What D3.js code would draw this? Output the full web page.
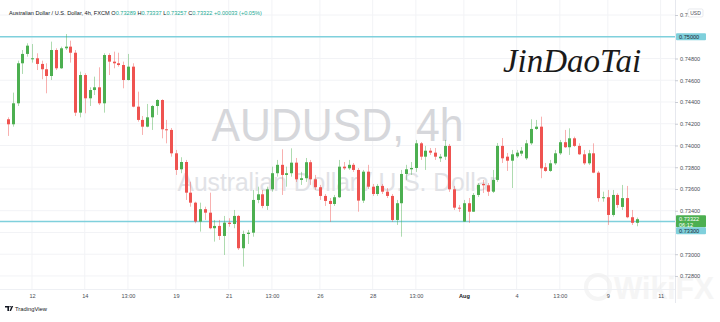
<!DOCTYPE html>
<html>
<head>
<meta charset="utf-8">
<script src="https://cdn.jsdelivr.net/npm/d3@7"></script>
<style>
  body { margin: 0; background: #fff; }
  svg { display: block; font-family: "Liberation Sans", "DejaVu Sans", sans-serif; }
</style>
</head>
<body>
<svg id="chart" width="720" height="322"></svg>
<script>
// AUDUSD 4h candles, 9 Jul - 10 Aug
var opens = [0.74241,0.74195,0.74388,0.74756,0.74842,0.74797,0.74802,0.74750,0.74701,0.74639,
  0.74878,0.74710,0.74894,0.74909,0.74853,0.74302,0.74648,0.74434,0.74510,0.74535,
  0.74388,0.74832,0.74771,0.74756,0.74740,0.74602,0.74725,0.74357,0.74235,0.74173,
  0.74259,0.74363,0.74418,0.74149,0.74143,0.73928,0.73781,0.73848,0.73566,0.73474,
  0.73300,0.73414,0.73382,0.73239,0.73260,0.73168,0.73290,0.73278,0.73352,0.73055,
  0.73186,0.73198,0.73499,0.73551,0.73444,0.73597,0.73745,0.73822,0.73729,0.73745,
  0.73842,0.73683,0.73699,0.73846,0.73689,0.73616,0.73536,0.73490,0.73462,0.73524,
  0.73805,0.73790,0.73822,0.73775,0.73493,0.73759,0.73621,0.73554,0.73628,0.73575,
  0.73536,0.73315,0.73469,0.73738,0.73781,0.73793,0.74020,0.73897,0.73952,0.73934,
  0.73882,0.73897,0.73996,0.73597,0.73428,0.73300,0.73469,0.73391,0.73545,0.73646,
  0.73634,0.73575,0.73683,0.73996,0.73897,0.73860,0.73900,0.73925,0.73882,0.74020,
  0.74152,0.74173,0.73800,0.73766,0.73836,0.73928,0.74030,0.73984,0.74066,0.73996,
  0.73919,0.73836,0.73928,0.73750,0.73516,0.73524,0.73361,0.73545,0.73435,0.73516,
  0.73340,0.73289];
var highs = [0.74259,0.74486,0.74780,0.74878,0.74940,0.74933,0.74848,0.74780,0.74756,0.74955,
  0.74894,0.74909,0.75025,0.74964,0.74878,0.74679,0.74664,0.74535,0.74633,0.74719,
  0.74848,0.74848,0.74863,0.74853,0.74771,0.74842,0.74756,0.74495,0.74271,0.74382,
  0.74372,0.74425,0.74425,0.74235,0.74161,0.73959,0.73892,0.73867,0.73667,0.73483,
  0.73474,0.73437,0.73566,0.73315,0.73315,0.73352,0.73331,0.73407,0.73361,0.73217,
  0.73223,0.73591,0.73621,0.73591,0.73621,0.73805,0.73867,0.73965,0.73805,0.73974,
  0.73885,0.73757,0.73885,0.73867,0.73729,0.73637,0.73554,0.73517,0.73545,0.73867,
  0.73848,0.73867,0.73839,0.73793,0.73775,0.73822,0.73646,0.73646,0.73646,0.73609,
  0.73554,0.73499,0.73775,0.73822,0.73848,0.74051,0.74032,0.73996,0.73977,0.73977,
  0.73922,0.74051,0.74014,0.73628,0.73453,0.73499,0.73517,0.73563,0.73655,0.73683,
  0.73655,0.73775,0.74023,0.74069,0.73931,0.73959,0.73959,0.73986,0.74051,0.74241,
  0.74235,0.74265,0.73839,0.73867,0.73959,0.74051,0.74143,0.74158,0.74081,0.74020,
  0.73959,0.73959,0.74020,0.73766,0.73575,0.73591,0.73591,0.73560,0.73637,0.73628,
  0.73407,0.73337];
var lows = [0.74088,0.74173,0.74363,0.74658,0.74817,0.74762,0.74694,0.74609,0.74480,0.74602,
  0.74694,0.74704,0.74878,0.74762,0.74271,0.74259,0.74296,0.74363,0.74464,0.74372,
  0.74302,0.74648,0.74710,0.74725,0.74526,0.74598,0.74351,0.74219,0.74097,0.74167,
  0.74143,0.74281,0.74066,0.74020,0.73897,0.73729,0.73745,0.73499,0.73437,0.73285,
  0.73208,0.73315,0.73230,0.73116,0.73131,0.72993,0.73253,0.73239,0.73039,0.72886,
  0.73094,0.73161,0.73469,0.73423,0.73407,0.73575,0.73713,0.73545,0.73621,0.73713,
  0.73665,0.73637,0.73665,0.73637,0.73591,0.73499,0.73444,0.73297,0.73444,0.73517,
  0.73775,0.73775,0.73757,0.73391,0.73471,0.73600,0.73536,0.73536,0.73554,0.73517,
  0.73297,0.73269,0.73161,0.73683,0.73729,0.73757,0.73867,0.73775,0.73913,0.73867,
  0.73848,0.73867,0.73573,0.73407,0.73389,0.73297,0.73288,0.73389,0.73527,0.73563,
  0.73536,0.73563,0.73665,0.73839,0.73766,0.73609,0.73885,0.73904,0.73867,0.74005,
  0.74143,0.73699,0.73757,0.73757,0.73821,0.73913,0.73977,0.73913,0.73986,0.73913,
  0.73821,0.73821,0.73745,0.73483,0.73483,0.73269,0.73346,0.73426,0.73407,0.73331,
  0.73269,0.73257];
var closes = [0.74195,0.74388,0.74756,0.74842,0.74918,0.74802,0.74750,0.74701,0.74639,0.74878,
  0.74710,0.74894,0.74909,0.74853,0.74302,0.74648,0.74434,0.74510,0.74535,0.74388,
  0.74832,0.74771,0.74756,0.74740,0.74602,0.74725,0.74357,0.74235,0.74173,0.74259,
  0.74363,0.74418,0.74149,0.74143,0.73928,0.73775,0.73848,0.73566,0.73474,0.73300,
  0.73414,0.73382,0.73239,0.73260,0.73168,0.73290,0.73278,0.73352,0.73055,0.73186,
  0.73198,0.73499,0.73551,0.73444,0.73597,0.73745,0.73822,0.73729,0.73745,0.73842,
  0.73689,0.73699,0.73846,0.73689,0.73616,0.73536,0.73490,0.73462,0.73524,0.73805,
  0.73790,0.73822,0.73775,0.73493,0.73759,0.73621,0.73554,0.73628,0.73575,0.73536,
  0.73315,0.73469,0.73738,0.73781,0.73793,0.74020,0.73897,0.73952,0.73934,0.73897,
  0.73897,0.73996,0.73597,0.73428,0.73419,0.73469,0.73391,0.73545,0.73637,0.73634,
  0.73575,0.73683,0.73996,0.73882,0.73860,0.73919,0.73934,0.73952,0.74020,0.74152,
  0.74173,0.73790,0.73766,0.73836,0.73928,0.74030,0.73984,0.74066,0.73996,0.73919,
  0.73836,0.73928,0.73750,0.73516,0.73524,0.73361,0.73545,0.73453,0.73516,0.73340,
  0.73289,0.73322];

// time axis: candle index of each label
var xTickIndex = [5, 16, 25, 35, 46, 55, 65, 76, 85, 95, 106, 115, 125, 136];
var xTickLabels = ["12", "14", "13:00", "19", "21", "13:00", "26", "28", "13:00", "Aug", "4", "13:00", "9", "11"];

// price axis
var priceTicks = [0.728, 0.730, 0.734, 0.736, 0.738, 0.740, 0.742, 0.744, 0.746, 0.748, 0.752];
var levelLines = [0.75000, 0.73300];
var lastPrice = 0.73322;
var countdown = "06:12";

var header = {
  name: "Australian Dollar / U.S. Dollar, 4h, FXCM",
  o: "0.73289", h: "0.73337", l: "0.73257", c: "0.73322",
  chg: "+0.00033 (+0.05%)"
};

var svg = d3.select("#chart");
var plotRight = 675, plotBottom = 289;

var x = d3.scaleLinear().domain([-5 / 3, 139]).range([0, plotRight]);
var y = d3.scaleLinear().domain([0.7268, 0.75338]).range([plotBottom, 0]);

var upColor = "#4caf50", downColor = "#ef5350";
var lineColor = "#7fd0dc";

// Grid
svg.append("g").selectAll("line")
  .data(priceTicks.concat([0.732])).enter().append("line")
  .attr("x1", 0).attr("x2", plotRight)
  .attr("y1", d => y(d)).attr("y2", d => y(d))
  .attr("stroke", "#f2f3f6").attr("stroke-width", 1);
svg.append("g").selectAll("line")
  .data(xTickIndex).enter().append("line")
  .attr("x1", d => x(d)).attr("x2", d => x(d))
  .attr("y1", 0).attr("y2", plotBottom)
  .attr("stroke", "#f2f3f6").attr("stroke-width", 1);

// Watermark
svg.append("text")
  .attr("x", plotRight / 2).attr("y", 141)
  .attr("text-anchor", "middle")
  .attr("font-size", 46)
  .attr("textLength", 252).attr("lengthAdjust", "spacingAndGlyphs")
  .attr("fill", "#d6d7db")
  .text("AUDUSD, 4h");
svg.append("text")
  .attr("x", plotRight / 2).attr("y", 191)
  .attr("text-anchor", "middle")
  .attr("font-size", 25)
  .attr("textLength", 320).attr("lengthAdjust", "spacingAndGlyphs")
  .attr("fill", "#e1e2e6")
  .text("Australian Dollar / U.S. Dollar");

// WikiFX mark (faint)
var wk = svg.append("g").attr("opacity", 0.55);
wk.append("circle").attr("cx", 598).attr("cy", 287).attr("r", 12)
  .attr("fill", "none").attr("stroke", "#ededed").attr("stroke-width", 4);
wk.append("text").attr("x", 614).attr("y", 299)
  .attr("font-size", 32).attr("font-weight", "bold").attr("fill", "#ededed")
  .attr("textLength", 100).attr("lengthAdjust", "spacingAndGlyphs")
  .text("WikiFX");

// Level lines
svg.append("g").selectAll("line")
  .data(levelLines).enter().append("line")
  .attr("x1", 0).attr("x2", plotRight)
  .attr("y1", d => y(d)).attr("y2", d => y(d))
  .attr("stroke", lineColor).attr("stroke-width", 1.5);

// Candles
var candles = d3.range(opens.length).map(function(i) {
  return { i: i, o: opens[i], h: highs[i], l: lows[i], c: closes[i] };
});
var cg = svg.append("g");
cg.selectAll(".wick")
  .data(candles).enter().append("line")
  .attr("class", "wick")
  .attr("x1", d => Math.round(x(d.i)) + 0.5).attr("x2", d => Math.round(x(d.i)) + 0.5)
  .attr("y1", d => y(d.h)).attr("y2", d => y(d.l))
  .attr("stroke", d => d.c >= d.o ? upColor : downColor)
  .attr("stroke-opacity", 0.45)
  .attr("stroke-width", 1);
cg.selectAll(".body")
  .data(candles).enter().append("rect")
  .attr("class", "body")
  .attr("x", d => Math.round(x(d.i)) - 1)
  .attr("width", 3)
  .attr("y", d => y(Math.max(d.o, d.c)))
  .attr("height", d => Math.max(1, Math.abs(y(d.o) - y(d.c))))
  .attr("fill", d => d.c >= d.o ? upColor : downColor);

// Signature
svg.append("text")
  .attr("x", 572).attr("y", 72)
  .attr("text-anchor", "middle")
  .attr("font-family", "'Liberation Serif', serif")
  .attr("font-style", "italic")
  .attr("font-size", 33)
  .attr("fill", "#1a1a1a")
  .text("JinDaoTai");

// Axis separators
svg.append("line").attr("x1", plotRight + 0.5).attr("x2", plotRight + 0.5)
  .attr("y1", 0).attr("y2", 303).attr("stroke", "#e6e8ee");
svg.append("line").attr("x1", 0).attr("x2", plotRight)
  .attr("y1", plotBottom + 0.5).attr("y2", plotBottom + 0.5).attr("stroke", "#eef0f4");

// Price axis
var yAxis = svg.append("g")
  .attr("transform", "translate(" + plotRight + ",0)")
  .call(d3.axisRight(y).tickValues(priceTicks).tickFormat(d3.format(".5f")).tickSize(3).tickPadding(2));
yAxis.select(".domain").remove();
yAxis.selectAll("line").attr("stroke", "#c9ccd4");
yAxis.selectAll("text").attr("font-size", 5.6).attr("fill", "#4c4f57");

// Time axis
var xAxis = svg.append("g")
  .attr("transform", "translate(0," + plotBottom + ")")
  .call(d3.axisBottom(x).tickValues(xTickIndex)
    .tickFormat((d, i) => xTickLabels[i]).tickSize(0).tickPadding(5));
xAxis.select(".domain").remove();
xAxis.selectAll("text")
  .attr("font-size", 5.6)
  .attr("font-weight", d => d === 95 ? "bold" : null)
  .attr("fill", d => d === 95 ? "#131722" : "#4c4f57");

// USD badge over top tick
svg.append("rect").attr("x", 688).attr("y", 9).attr("width", 15).attr("height", 8)
  .attr("rx", 1.5).attr("fill", "#fff").attr("stroke", "#d8dbe2").attr("stroke-width", 0.6);
svg.append("text").attr("x", 695.5).attr("y", 15).attr("text-anchor", "middle")
  .attr("font-size", 5).attr("fill", "#4c4f57").text("USD");

// Price labels on the axis
function priceTag(yPos, h, fill, lines, color) {
  var g = svg.append("g");
  g.append("rect").attr("x", plotRight + 1).attr("y", yPos).attr("width", 30).attr("height", h)
    .attr("rx", 1).attr("fill", fill);
  lines.forEach(function(t, k) {
    g.append("text").attr("x", plotRight + 4).attr("y", yPos + 5.4 + k * 6)
      .attr("font-size", 5.6).attr("fill", color).text(t);
  });
}
priceTag(y(levelLines[0]) - 3.5, 7, lineColor, [d3.format(".5f")(levelLines[0])], "#1c2b33");
priceTag(y(lastPrice) - 4, 12, upColor, [d3.format(".5f")(lastPrice), countdown], "#fff");
priceTag(y(lastPrice) + 8, 7, lineColor, [d3.format(".5f")(levelLines[1])], "#1c2b33");

// Header
var ht = svg.append("text").attr("x", 9).attr("y", 15).attr("font-size", 5.6).attr("fill", "#131722");
ht.append("tspan").text(header.name + "  ");
[["O", header.o], ["H", header.h], ["L", header.l], ["C", header.c]].forEach(function(p) {
  ht.append("tspan").text(p[0]);
  ht.append("tspan").attr("fill", "#22ab94").text(p[1] + "  ");
});
ht.append("tspan").attr("fill", "#22ab94").text(header.chg);

// TradingView logo
var tv = svg.append("g").attr("transform", "translate(5,306)");
tv.append("path").attr("d", "M0,0h4v5h-1.6v-3.6h-2.4z M4.4,0h1.4v1.2h-1.4z M6.6,0h1.6l-2.2,5h-1.5z").attr("fill", "#131722");
tv.append("text").attr("x", 10).attr("y", 4.8).attr("font-size", 5.8).attr("fill", "#131722").text("TradingView");
</script>
</body>
</html>
